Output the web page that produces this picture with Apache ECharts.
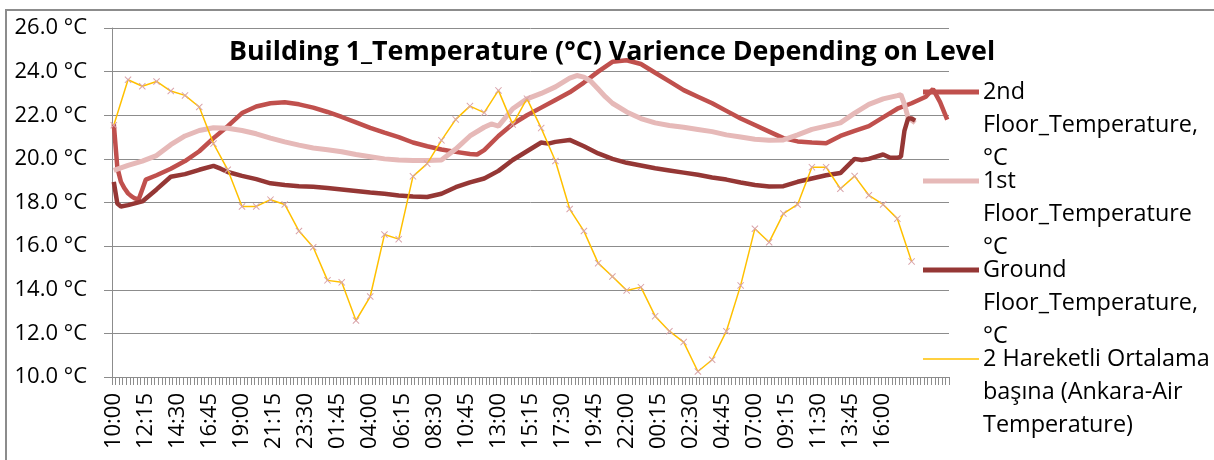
<!DOCTYPE html>
<html><head><meta charset="utf-8">
<script src="https://cdn.jsdelivr.net/npm/echarts@6/dist/echarts.min.js"></script>
<style>html,body{margin:0;padding:0;background:#fff}#c{width:1214px;height:460px}</style>
</head><body><div id="c"></div>
<script>
// ---- time axis: 15-minute readings starting at 10:00 ----
const START_TIME = '10:00';
const STEP_MINUTES = 15;
const CATEGORY_COUNT = 235;
const LABEL_EVERY = 9; // one label every 2h15
const tickLabels = ['10:00','12:15','14:30','16:45','19:00','21:15','23:30','01:45','04:00','06:15','08:30','10:45','13:00','15:15','17:30','19:45','22:00','00:15','02:30','04:45','07:00','09:15','11:30','13:45','16:00'];

const seriesNames = [
  '2nd Floor_Temperature, °C',
  '1st Floor_Temperature °C',
  'Ground Floor_Temperature, °C',
  '2 Hareketli Ortalama başına (Ankara-Air Temperature)'
];

// [category index, °C]
const secondFloor = [[0,21.6],[1,19.6],[2,18.95],[3,18.65],[4,18.42],[5,18.28],[6,18.18],[7,18.15],[8,18.6],[9,19.05],[12,19.25],[16,19.55],[20,19.9],[24,20.35],[28,20.95],[32,21.5],[36,22.1],[40,22.4],[44,22.55],[48,22.6],[52,22.5],[56,22.35],[60,22.15],[64,21.92],[68,21.67],[72,21.42],[76,21.2],[80,21.0],[84,20.75],[88,20.58],[92,20.43],[96,20.32],[100,20.22],[102,20.2],[104,20.4],[108,21.05],[112,21.6],[116,22.0],[120,22.35],[124,22.7],[128,23.05],[132,23.5],[136,24.0],[140,24.45],[144,24.52],[148,24.35],[152,23.95],[156,23.55],[160,23.15],[164,22.85],[168,22.55],[172,22.2],[176,21.85],[180,21.55],[184,21.25],[188,20.95],[192,20.8],[196,20.75],[200,20.72],[204,21.05],[208,21.28],[212,21.5],[216,21.9],[220,22.3],[224,22.55],[228,22.85],[230,23.2],[231,22.9],[232,22.6],[233,22.2],[234,21.8]];

const firstFloor = [[0,19.47],[4,19.7],[8,19.9],[12,20.15],[16,20.65],[20,21.05],[24,21.3],[28,21.43],[32,21.4],[36,21.3],[40,21.15],[44,20.95],[48,20.78],[52,20.63],[56,20.5],[60,20.42],[64,20.33],[68,20.2],[72,20.1],[76,20.0],[80,19.95],[84,19.93],[88,19.93],[92,19.95],[96,20.45],[100,21.05],[104,21.45],[106,21.6],[108,21.5],[112,22.3],[116,22.75],[120,23.0],[124,23.3],[128,23.7],[130,23.82],[132,23.75],[134,23.55],[136,23.2],[138,22.85],[140,22.55],[144,22.15],[148,21.85],[152,21.65],[156,21.53],[160,21.45],[164,21.35],[168,21.25],[172,21.1],[176,21.0],[180,20.9],[184,20.85],[188,20.87],[192,21.1],[196,21.35],[200,21.5],[204,21.65],[208,22.1],[212,22.5],[216,22.75],[220,22.9],[221,22.95],[222,22.5],[223,21.9],[225,21.65]];

const groundFloor = [[0,18.95],[1,17.95],[2,17.82],[4,17.88],[8,18.05],[12,18.6],[16,19.18],[20,19.3],[24,19.5],[28,19.68],[30,19.55],[32,19.4],[36,19.22],[40,19.07],[44,18.88],[48,18.8],[52,18.75],[56,18.72],[60,18.66],[64,18.6],[68,18.53],[72,18.46],[76,18.4],[80,18.32],[84,18.27],[88,18.25],[92,18.4],[96,18.7],[100,18.92],[104,19.1],[108,19.45],[112,19.95],[116,20.35],[120,20.75],[122,20.7],[124,20.78],[128,20.87],[132,20.58],[136,20.25],[140,20.0],[144,19.82],[148,19.7],[152,19.57],[156,19.47],[160,19.37],[164,19.27],[168,19.15],[172,19.05],[176,18.92],[180,18.8],[184,18.73],[188,18.75],[192,18.95],[196,19.1],[200,19.25],[204,19.35],[208,20.0],[210,19.95],[212,20.0],[216,20.2],[218,20.05],[220,20.05],[221,20.1],[222,21.3],[223,21.85],[224,21.85],[225,21.75]];

// hourly air temperature (2-period moving average), one value every 4 categories
const AIR_STEP = 4;
const airTemp = [21.54,23.63,23.33,23.55,23.11,22.91,22.38,20.70,19.50,17.82,17.82,18.13,17.91,16.69,15.95,14.43,14.34,12.59,13.69,16.53,16.32,19.20,19.78,20.85,21.81,22.42,22.12,23.14,21.58,22.76,21.41,19.90,17.70,16.69,15.22,14.61,13.97,14.12,12.79,12.10,11.60,10.25,10.79,12.10,14.20,16.80,16.18,17.49,17.91,19.62,19.62,18.63,19.21,18.33,17.91,17.26,15.30];

const Y_MIN = 10, Y_MAX = 26, Y_STEP = 2;

// ---- build ----
const categories = [];
(function(){
  const p = START_TIME.split(':');
  const s = (+p[0]) * 60 + (+p[1]);
  for (let i = 0; i < CATEGORY_COUNT; i++) {
    const m = (s + i * STEP_MINUTES) % 1440;
    categories.push(String(Math.floor(m / 60)).padStart(2, '0') + ':' + String(m % 60).padStart(2, '0'));
  }
})();
const airData = airTemp.map((v, k) => [k * AIR_STEP, v]);

const colors = ['#C0504D', '#E6B9B8', '#953735', '#FFC000'];
const FONT = '"Open Sans", "Noto Sans", sans-serif';
const TXT = '#000000';
const GRID_C = '#8c8c8c';

const chart = echarts.init(document.getElementById('c'), null, {renderer: 'canvas'});

const legendLines = [
  '2nd\nFloor_Temperature,\n°C',
  '1st\nFloor_Temperature\n°C',
  'Ground\nFloor_Temperature,\n°C',
  '2 Hareketli Ortalama\nbaşına (Ankara-Air\nTemperature)'
];
const legendY = [92, 181, 270, 359];
const legendW = [5, 5, 5, 1.5];
const LINE_H = 33;
const legendGraphics = [];
legendLines.forEach((t, i) => {
  legendGraphics.push({
    type: 'line', silent: true,
    shape: {x1: 923, y1: legendY[i], x2: 979, y2: legendY[i]},
    style: {stroke: colors[i], lineWidth: legendW[i]}
  });
  legendGraphics.push({
    type: 'text', silent: true, x: 983, y: legendY[i] - LINE_H / 2,
    style: {text: t, font: '23.4px ' + FONT, fill: TXT, lineHeight: LINE_H, verticalAlign: 'top', align: 'left'}
  });
});

const option = {
  animation: false,
  backgroundColor: '#ffffff',
  title: {
    text: 'Building 1_Temperature (°C) Varience Depending on Level',
    left: 607, top: 34, textAlign: 'center',
    textStyle: {fontFamily: FONT, fontWeight: 'bold', fontSize: 26.8, color: TXT}
  },
  graphic: [
    {type: 'rect', silent: true, shape: {x: 6, y: 10, width: 1240, height: 480},
     style: {fill: 'none', stroke: '#8c8c8c', lineWidth: 2}},
    ...legendGraphics
  ],
  grid: {left: 112, right: 265, top: 28, bottom: 83, containLabel: false},
  xAxis: {
    type: 'category', data: categories, boundaryGap: true,
    axisLine: {show: true, lineStyle: {color: GRID_C, width: 1}},
    axisTick: {show: true, interval: 0, length: 8, lineStyle: {color: GRID_C}},
    axisLabel: {
      interval: function (idx) { return idx % LABEL_EVERY === 0 && tickLabels.indexOf(categories[idx]) >= 0; },
      rotate: 90, margin: 16, color: TXT, fontFamily: FONT, fontSize: 22
    },
    splitLine: {show: false}
  },
  yAxis: {
    type: 'value', min: Y_MIN, max: Y_MAX, interval: Y_STEP,
    axisLine: {show: true, lineStyle: {color: GRID_C}},
    axisTick: {show: true, length: 8, lineStyle: {color: GRID_C}},
    axisLabel: {formatter: v => v.toFixed(1) + ' °C', margin: 25, color: TXT, fontFamily: FONT, fontSize: 22},
    splitLine: {show: true, lineStyle: {color: GRID_C, width: 1}}
  },
  series: [
    {name: seriesNames[0], type: 'line', data: secondFloor, symbol: 'none', z: 2,
     lineStyle: {color: colors[0], width: 4.5}, itemStyle: {color: colors[0]}},
    {name: seriesNames[1], type: 'line', data: firstFloor, symbol: 'none', z: 3,
     lineStyle: {color: colors[1], width: 5}, itemStyle: {color: colors[1]}},
    {name: seriesNames[2], type: 'line', data: groundFloor, symbol: 'none', z: 4,
     lineStyle: {color: colors[2], width: 4.5}, itemStyle: {color: colors[2]}},
    {name: seriesNames[3], type: 'line', data: airData, z: 5,
     symbol: 'path://M1,0L5,4L9,0L10,1L6,5L10,9L9,10L5,6L1,10L0,9L4,5L0,1Z', symbolSize: 7,
     showSymbol: true, showAllSymbol: true,
     lineStyle: {color: colors[3], width: 1.5}, itemStyle: {color: '#D9A3AA'}}
  ]
};
chart.setOption(option);
</script>
</body></html>
